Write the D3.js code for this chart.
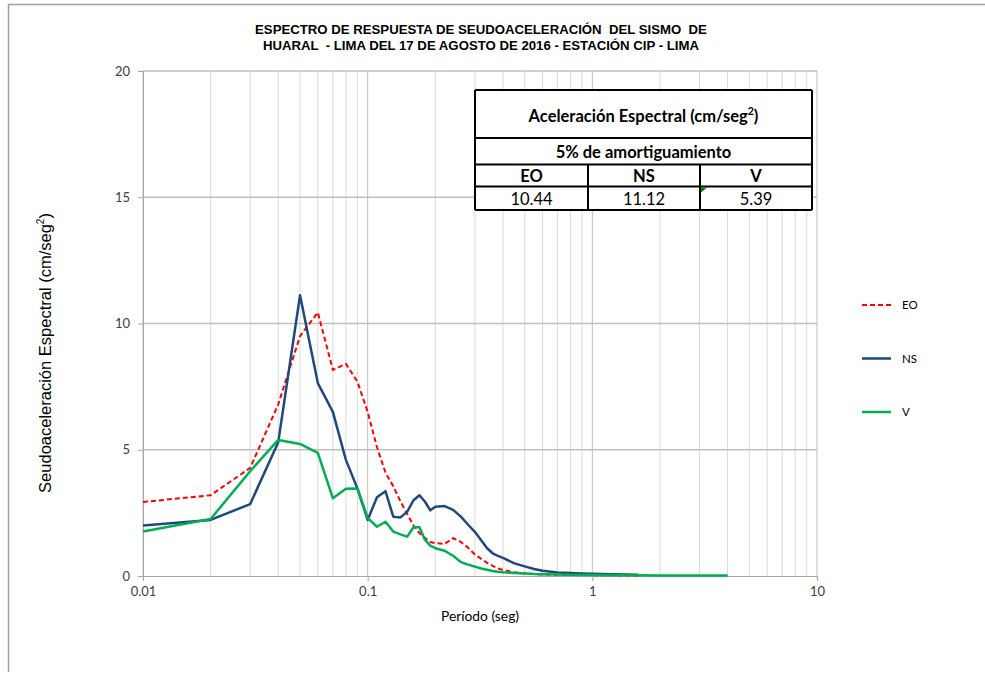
<!DOCTYPE html>
<html>
<head>
<meta charset="utf-8">
<script src="https://cdn.jsdelivr.net/npm/d3@7"></script>
<style>
  body { margin: 0; background: #fff; }
  svg { display: block; }
  .axis path, .axis line { stroke: #a6a6a6; }
  .axis text { font-family: Lato, "Open Sans", sans-serif; font-size: 13px; fill: #404040; }
  .title { white-space: pre; }
</style>
</head>
<body>
<div id="chart"></div>
<script>
// Periods (seg) shared by the three components
var periods = [
  0.01, 0.02, 0.03, 0.04, 0.05, 0.06, 0.07, 0.08, 0.09, 0.1,
  0.11, 0.12, 0.13, 0.14, 0.15, 0.16, 0.17, 0.18, 0.19, 0.2,
  0.22, 0.24, 0.26, 0.28, 0.3, 0.32, 0.34, 0.36, 0.38, 0.4,
  0.45, 0.5, 0.55, 0.6, 0.7, 0.8, 0.9, 1.0,
  1.2, 1.4, 1.6,
  2.0, 2.5, 3.0, 3.5, 4.0
];

// Spectral acceleration (cm/seg2)
var eoValues = [
  2.93, 3.2, 4.28, 6.8, 9.5, 10.44, 8.16, 8.4, 7.7, 6.5,
  5.1, 4.1, 3.55, 2.95, 2.45, 2.0, 1.7, 1.5, 1.35, 1.3,
  1.27, 1.5, 1.35, 1.12, 0.85, 0.68, 0.52, 0.4, 0.3, 0.24,
  0.15, 0.1, 0.08, 0.06, 0.05, 0.04, 0.04, 0.03,
  0.03, 0.02, 0.02,
  null, null, null, null, null
];
var nsValues = [
  2.0, 2.22, 2.85, 5.3, 11.12, 7.64, 6.5, 4.6, 3.47, 2.22,
  3.12, 3.36, 2.35, 2.32, 2.55, 3.0, 3.2, 2.94, 2.6, 2.74,
  2.77, 2.62, 2.35, 2.03, 1.75, 1.42, 1.1, 0.9, 0.8, 0.72,
  0.5, 0.38, 0.28, 0.21, 0.14, 0.12, 0.1, 0.09,
  0.07, 0.06, 0.05,
  null, null, null, null, null
];
var vValues = [
  1.76, 2.26, 4.15, 5.39, 5.23, 4.88, 3.08, 3.46, 3.47, 2.3,
  1.95, 2.15, 1.76, 1.65, 1.56, 1.93, 1.93, 1.43, 1.2, 1.1,
  1.0, 0.8, 0.55, 0.45, 0.37, 0.3, 0.25, 0.2, 0.17, 0.15,
  0.12, 0.1, 0.08, 0.07, 0.06, 0.05, 0.04, 0.04,
  0.03, 0.03, 0.03,
  0.02, 0.02, 0.02, 0.02, 0.02
];

var seriesNames = ["EO", "NS", "V"];
var seriesColors = ["#ff0000", "#1f497d", "#00b050"];
var seriesDash = ["5,3", null, null];

var yTicks = [0, 5, 10, 15, 20];
var xTicks = [0.01, 0.1, 1, 10];

var titleLines = [
  "ESPECTRO DE RESPUESTA DE SEUDOACELERACIÓN  DEL SISMO  DE",
  "HUARAL  - LIMA DEL 17 DE AGOSTO DE 2016 - ESTACIÓN CIP - LIMA"
];
var tableHeads = ["EO", "NS", "V"];
var tableValues = ["10.44", "11.12", "5.39"];

var width = 985, height = 675;
var margins = { top: 71, right: 168, bottom: 99, left: 143 };
var chartWidth = width - margins.left - margins.right;
var chartHeight = height - margins.top - margins.bottom;

var svg = d3.select("#chart")
  .append("svg")
  .attr("width", width)
  .attr("height", height);

// Outer frame (only top and left edges show)
svg.append("path")
  .attr("d", "M8.5,672 L8.5,4.5 L985,4.5")
  .attr("fill", "none")
  .attr("stroke", "#a0a0a0")
  .attr("stroke-width", 1.5);

// Title
svg.append("g")
  .selectAll("text")
  .data(titleLines)
  .enter()
  .append("text")
  .attr("class", "title")
  .attr("x", 481)
  .attr("y", (d, i) => 33.5 + i * 16)
  .attr("text-anchor", "middle")
  .attr("font-family", "'Liberation Sans', Arial, sans-serif")
  .attr("font-weight", "bold")
  .attr("font-size", 13.2)
  .attr("fill", "#000")
  .text(d => d);

var chartElement = svg.append("g")
  .attr("transform", `translate(${margins.left},${margins.top})`);

// Scales
var xScale = d3.scaleLog()
  .domain([0.01, 10])
  .range([0, chartWidth]);

var yScale = d3.scaleLinear()
  .domain([0, 20])
  .range([chartHeight, 0]);

// Vertical grid on every log minor tick
var minorTicks = [];
[0.01, 0.1, 1].forEach(function(dec) {
  for (var k = 1; k <= 9; k++) minorTicks.push(dec * k);
});
minorTicks.push(10);

chartElement.append("g")
  .attr("class", "x grid")
  .selectAll("line")
  .data(minorTicks)
  .enter()
  .append("line")
  .attr("x1", d => xScale(d))
  .attr("x2", d => xScale(d))
  .attr("y1", 0)
  .attr("y2", chartHeight)
  .attr("stroke", d => xTicks.indexOf(+d.toPrecision(3)) >= 0 ? "#c0c0c0" : "#d9d9d9")
  .attr("stroke-width", 1);

// Horizontal grid
chartElement.append("g")
  .attr("class", "y grid")
  .selectAll("line")
  .data(yTicks.filter(d => d > 0))
  .enter()
  .append("line")
  .attr("x1", 0)
  .attr("x2", chartWidth)
  .attr("y1", d => yScale(d))
  .attr("y2", d => yScale(d))
  .attr("stroke", "#bfbfbf")
  .attr("stroke-width", 1.5);

// Axes
var xAxis = d3.axisBottom(xScale)
  .tickValues(xTicks)
  .tickSize(5)
  .tickPadding(6)
  .tickFormat(d => String(d));

var yAxis = d3.axisLeft(yScale)
  .tickValues(yTicks)
  .tickSize(5)
  .tickPadding(8)
  .tickFormat(d => d);

chartElement.append("g")
  .attr("class", "x axis")
  .attr("transform", `translate(0,${chartHeight})`)
  .call(xAxis);

chartElement.append("g")
  .attr("class", "y axis")
  .call(yAxis);

chartElement.selectAll(".axis .domain").attr("stroke", "#a6a6a6");

// Lines
var allValues = [eoValues, nsValues, vValues];
var line = d3.line()
  .defined(d => d.v != null)
  .x(d => xScale(d.t))
  .y(d => yScale(d.v));

chartElement.append("g")
  .attr("class", "lines")
  .selectAll("path")
  .data(allValues.map(vals => periods.map((t, i) => ({ t: t, v: vals[i] }))))
  .enter()
  .append("path")
  .attr("fill", "none")
  .attr("stroke", (d, i) => seriesColors[i])
  .attr("stroke-width", (d, i) => i === 0 ? 2 : 2.5)
  .attr("stroke-dasharray", (d, i) => seriesDash[i])
  .attr("stroke-linejoin", "round")
  .attr("d", d => line(d));

// Axis titles
svg.append("text")
  .attr("transform", "translate(51,353) rotate(-90)")
  .attr("text-anchor", "middle")
  .attr("font-family", "'Liberation Sans', Arial, sans-serif")
  .attr("font-size", 16.5)
  .attr("fill", "#000")
  .html("Seudoaceleración Espectral (cm/seg<tspan dy='-7' font-size='10'>2</tspan><tspan dy='7'>)</tspan>");

svg.append("text")
  .attr("x", 480)
  .attr("y", 621)
  .attr("text-anchor", "middle")
  .attr("font-family", "Lato, 'Open Sans', sans-serif")
  .attr("font-size", 13.8)
  .attr("fill", "#000")
  .text("Período (seg)");

// Legend
var legend = svg.append("g")
  .selectAll("g")
  .data(seriesNames)
  .enter()
  .append("g")
  .attr("transform", (d, i) => `translate(862,${305 + i * 53.5})`);

legend.append("line")
  .attr("x1", 0)
  .attr("x2", 29)
  .attr("stroke", (d, i) => seriesColors[i])
  .attr("stroke-width", (d, i) => i === 0 ? 2 : 2.5)
  .attr("stroke-dasharray", (d, i) => seriesDash[i]);

legend.append("text")
  .attr("x", 40)
  .attr("y", 4)
  .attr("font-family", "Lato, 'Open Sans', sans-serif")
  .attr("font-size", 11.5)
  .attr("fill", "#000")
  .text(d => d);

// Summary table
var table = svg.append("g").attr("class", "table");
var tx0 = 475, tx1 = 812, colA = 588, colB = 700;
var rowY = [90, 138, 164.5, 186.5, 210];

table.append("rect")
  .attr("x", tx0).attr("y", rowY[0])
  .attr("width", tx1 - tx0).attr("height", rowY[4] - rowY[0])
  .attr("fill", "#fff");

table.selectAll("line.row")
  .data(rowY)
  .enter()
  .append("line")
  .attr("x1", tx0).attr("x2", tx1)
  .attr("y1", d => d).attr("y2", d => d)
  .attr("stroke", "#000").attr("stroke-width", 2);

table.selectAll("line.col")
  .data([tx0, colA, colB, tx1])
  .enter()
  .append("line")
  .attr("x1", d => d).attr("x2", d => d)
  .attr("y1", (d, i) => (i === 0 || i === 3) ? rowY[0] : rowY[2])
  .attr("y2", rowY[4])
  .attr("stroke", "#000").attr("stroke-width", 2);

var tableFont = "Lato, 'Open Sans', sans-serif";
var tableSize = 16.5;

table.append("text")
  .attr("x", (tx0 + tx1) / 2).attr("y", 122)
  .attr("text-anchor", "middle")
  .attr("font-family", tableFont).attr("font-weight", "bold").attr("font-size", tableSize)
  .html("Aceleración Espectral (cm/seg<tspan dy='-7' font-size='10.5'>2</tspan><tspan dy='7'>)</tspan>");

table.append("text")
  .attr("x", (tx0 + tx1) / 2).attr("y", 158)
  .attr("text-anchor", "middle")
  .attr("font-family", tableFont).attr("font-weight", "bold").attr("font-size", tableSize)
  .text("5% de amortiguamiento");

var colCenters = [(tx0 + colA) / 2, (colA + colB) / 2, (colB + tx1) / 2];

table.selectAll("text.head")
  .data(tableHeads)
  .enter()
  .append("text")
  .attr("x", (d, i) => colCenters[i]).attr("y", 181.5)
  .attr("text-anchor", "middle")
  .attr("font-family", tableFont).attr("font-weight", "bold").attr("font-size", tableSize)
  .text(d => d);

table.selectAll("text.val")
  .data(tableValues)
  .enter()
  .append("text")
  .attr("x", (d, i) => colCenters[i]).attr("y", 205)
  .attr("text-anchor", "middle")
  .attr("font-family", tableFont).attr("font-size", tableSize)
  .text(d => d);

// Excel cell marker
table.append("path")
  .attr("d", `M${colB + 1},${rowY[3] + 1} l6,0 l-6,5 z`)
  .attr("fill", "#008000");
</script>
</body>
</html>
